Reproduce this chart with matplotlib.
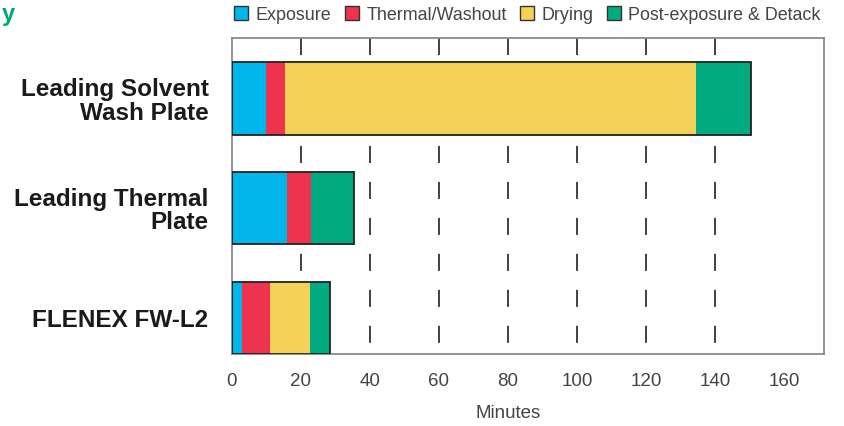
''' stacked processing-time bars for plate types '''
import numpy as np
import matplotlib.pyplot as plt
from matplotlib.patches import Patch

plt.rcParams['font.family'] = ['Liberation Sans', 'DejaVu Sans']
plt.rcParams['lines.scale_dashes'] = False

# data (minutes)
plates = ['Leading Solvent\nWash Plate', 'Leading Thermal\nPlate', 'FLENEX FW-L2']
steps = ['Exposure', 'Thermal/Washout', 'Drying', 'Post-exposure & Detack']
exposure = [10, 16, 3]
thermal = [5.5, 7, 8]
drying = [119, 0, 11.5]
post = [16, 12.5, 6]
colors = ['#00B6EA', '#EE334E', '#F4D257', '#00AB80']
xticks = [0, 20, 40, 60, 80, 100, 120, 140, 160]

fig = plt.figure(figsize=(8.45, 4.26), dpi=100)
ax = fig.add_axes([232 / 845, 1 - 354 / 426, 592 / 845, 316 / 426])

y = np.arange(len(plates))
left = np.zeros(len(plates))
for vals, c in zip([exposure, thermal, drying, post], colors):
    ax.barh(y, vals, left=left, height=0.66, color=c, edgecolor='none', zorder=3)
    left += np.array(vals)
# outline around each full bar
ax.barh(y, left, height=0.66, facecolor='none', edgecolor='#222222', linewidth=1.3, zorder=4)

# dashed vertical grid lines (drawn top to bottom so dashes start at the top)
ylim = (2.33, -0.55)
for t in xticks[1:-1]:
    ax.plot([t, t], [ylim[1], ylim[0]], color='#333333', linewidth=1.3,
            dashes=(12.3, 13.6), zorder=1)

ax.set_xlim(0, 171.6)
ax.set_ylim(*ylim)
ax.set_xticks(xticks)
ax.set_xticklabels([str(t) for t in xticks], fontsize=13.5, color='#444444')
ax.set_yticks(y)
ax.set_yticklabels(plates, fontsize=17.5, fontweight='bold', color='#1a1a1a',
                   linespacing=1.05)
ax.tick_params(axis='x', length=0, pad=14)
ax.tick_params(axis='y', length=0, pad=17)
for s in ax.spines.values():
    s.set_color('#8a8a8a')
    s.set_linewidth(1.3)

ax.text(80, 2.33 + 0.54, 'Minutes', ha='center', va='center', fontsize=13.5, color='#444444')

# legend on top
handles = [Patch(facecolor=c, edgecolor='#333333', linewidth=1) for c in colors]
fig.legend(handles, steps, loc='center left', bbox_to_anchor=(227 / 845, 1 - 15 / 426),
           ncol=4, frameon=False, fontsize=12.9, handlelength=0.8, handleheight=0.8,
           handletextpad=0.4, columnspacing=0.75, labelcolor='#444444', borderaxespad=0)

# clipped heading on the left
fig.text(15 / 845, 1 - 14 / 426, 'y', ha='right', va='center', fontsize=17,
         fontweight='bold', color='#00A878')

plt.savefig('out.png', dpi=100)
